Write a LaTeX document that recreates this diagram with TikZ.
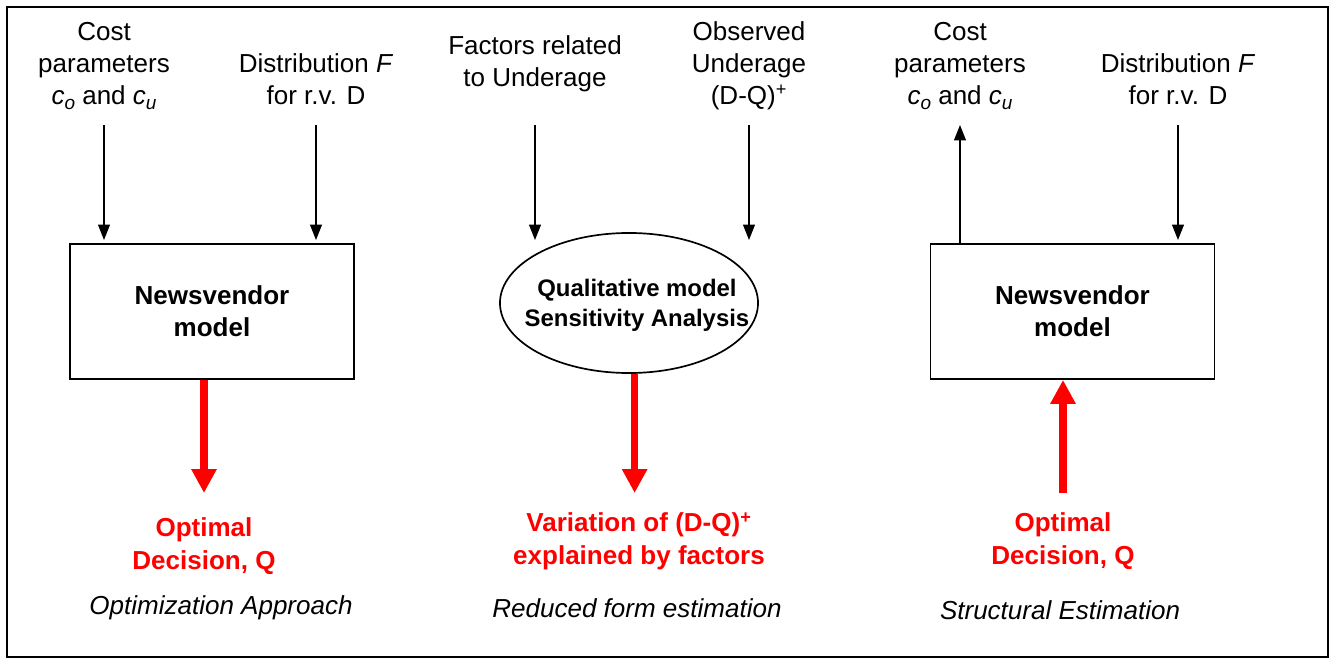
\documentclass[tikz,border=0pt]{standalone}
\usepackage{fontspec}
\setmainfont{Liberation Sans}
\usepackage{xcolor}
\usepackage{tikz}
\usetikzlibrary{arrows.meta,shapes.geometric}
\tikzset{
  frame/.style={draw=black, line width=1.1pt},
  lab/.style={align=center, font=\fontsize{18.5}{22.8}\selectfont},
  model/.style={draw=black, line width=1.3pt, minimum width=7.1cm, minimum height=3.375cm,
    align=center, font=\bfseries\fontsize{18.5}{22.5}\selectfont},
  oval/.style={ellipse, draw=black, line width=1.2pt, minimum width=6.45cm, minimum height=3.5cm,
    inner sep=0pt},
  ovaltext/.style={align=center, font=\bfseries\fontsize{17}{21.3}\selectfont},
  res/.style={align=center, text=red, font=\bfseries\fontsize{18.5}{23}\selectfont},
  appr/.style={font=\itshape\fontsize{18.5}{22.8}\selectfont},
  arr/.style={draw=black, line width=1pt, -{Triangle[length=11pt,width=8.5pt]}},
  bigarr/.style={draw=red, line width=5pt, -{Triangle[length=17pt,width=17pt]}},
}
\newcommand{\subit}[1]{\raisebox{-0.4ex}{\fontsize{13.5}{13.5}\selectfont\itshape #1}}
\newcommand{\cocu}{\textit{c}\subit{o} and \textit{c}\subit{u}}

\begin{document}
\begin{tikzpicture}[x=0.025cm, y=-0.025cm]
  \useasboundingbox (0,0) rectangle (1334,662);
  \draw[frame] (7,7) rectangle (1328,657);

  % rows where the thin arrows start and stop
  \coordinate (hi) at (0,125);
  \coordinate (lo) at (0,240);
  \coordinate (redlo) at (0,493);

  % optimization approach
  \node[lab] (cost1) at (104,66) {Cost\\parameters\\\cocu};
  \node[lab] (dist1) at (316,79) {Distribution \textit{F}\\for r.v. D};
  \node[model] (nv1) at (212,311.5) {Newsvendor\\model};
  \node[res] (opt1) at (204,546) {Optimal\\Decision, Q};
  \node[appr] (appr1) at (221,608) {Optimization Approach};

  \draw[arr] (cost1 |- hi) -- (cost1 |- lo);
  \draw[arr] (dist1 |- hi) -- (dist1 |- lo);
  \draw[bigarr] (opt1 |- nv1.south) -- (opt1 |- redlo);

  % reduced form estimation
  \node[lab] (fac) at (535,64) {Factors related\\to Underage};
  \node[lab] (obs) at (749,66) {Observed\\Underage\\(D-Q)\textsuperscript{+}};
  \node[oval] (qual) at (629,303) {};
  \node[ovaltext] (qualtxt) at (637,305) {Qualitative model\\Sensitivity Analysis};
  \node[res] (var) at (639,541) {Variation of (D-Q)\textsuperscript{+}\\explained by factors};
  \node[appr] (appr2) at (637,608) {Reduced form estimation};

  \draw[arr] (fac |- hi) -- (fac |- lo);
  \draw[arr] (obs |- hi) -- (obs |- lo);
  \draw[bigarr] ([xshift=4]qual.south) -- ([xshift=4]qual.south |- redlo);

  % structural estimation
  \node[lab] (cost2) at (960,66) {Cost\\parameters\\\cocu};
  \node[lab] (dist2) at (1178,79) {Distribution \textit{F}\\for r.v. D};
  \node[model] (nv2) at (1072.5,311.5) {Newsvendor\\model};
  \node[res] (opt2) at (1063,541) {Optimal\\Decision, Q};
  \node[appr] (appr3) at (1060,610) {Structural Estimation};

  \draw[arr] (cost2 |- nv2.north) -- (cost2 |- hi);
  \draw[arr] (dist2 |- hi) -- (dist2 |- lo);
  \draw[bigarr] (opt2 |- redlo) -- (opt2 |- nv2.south);
\end{tikzpicture}
\end{document}
